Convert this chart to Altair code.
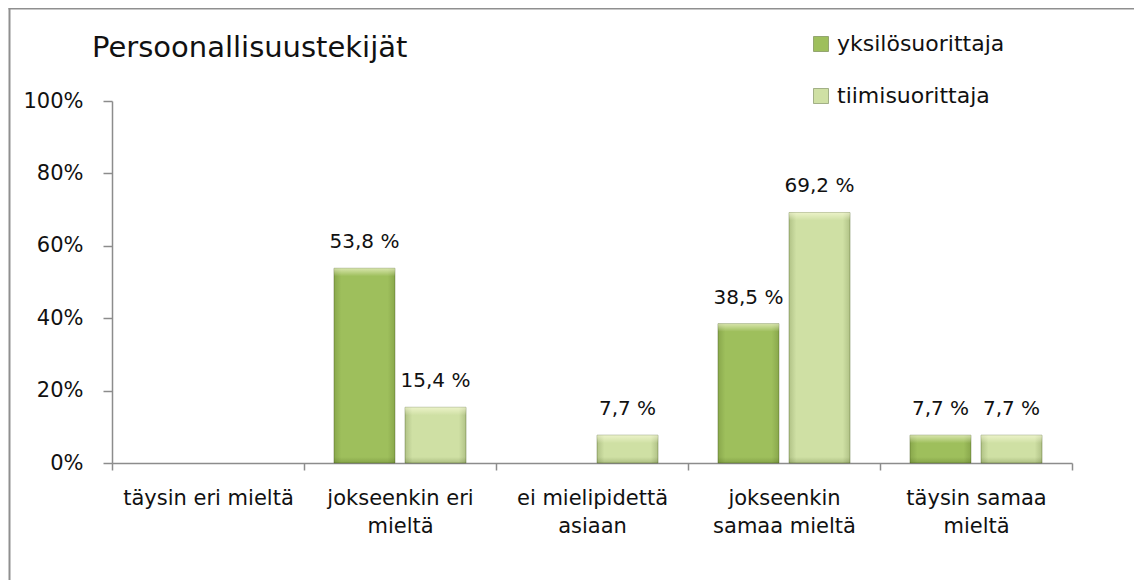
import altair as alt
import pandas as pd

categories = ["täysin eri mieltä", "jokseenkin eri mieltä", "ei mielipidettä asiaan",
              "jokseenkin samaa mieltä", "täysin samaa mieltä"]
wrapped = [["täysin eri mieltä"], ["jokseenkin eri", "mieltä"], ["ei mielipidettä", "asiaan"],
           ["jokseenkin", "samaa mieltä"], ["täysin samaa", "mieltä"]]
series_names = ["yksilösuorittaja", "tiimisuorittaja"]
yksilo = [0, 53.8, 0, 38.5, 7.7]
tiimi = [0, 15.4, 7.7, 69.2, 7.7]
y_ticks = [0, 20, 40, 60, 80, 100]
colors = ["#9ebf5c", "#cfe0a4"]
FONT = "DejaVu Sans"

rows = []
for s, vals in zip(series_names, [yksilo, tiimi]):
    for c, v in zip(categories, vals):
        rows.append({"cat": c, "series": s, "value": v,
                     "label": f"{v:.1f}".replace(".", ",") + " %"})
df = pd.DataFrame(rows)

label_expr = ""
for c, w in zip(categories, wrapped):
    arr = "[" + ",".join("'" + p + "'" for p in w) + "]"
    label_expr += f"datum.value == '{c}' ? {arr} : "
label_expr += "datum.label"

W, H = 960, 362
PAD = {"left": 104, "top": 93, "right": 62, "bottom": 117}

x_enc = alt.X("cat:N", sort=categories,
              scale=alt.Scale(domain=categories, paddingInner=0, paddingOuter=0),
              axis=alt.Axis(title=None, labelAngle=0, labelExpr=label_expr, tickBand="extent",
                            domainColor="#8c8c8c", tickColor="#8c8c8c", domainWidth=1.5,
                            tickWidth=1.5, tickSize=7, labelFontSize=21, labelFont=FONT,
                            labelColor="#111111", labelPadding=17, labelLimit=400,
                            labelLineHeight=28, labelOverlap=False))
y_enc = alt.Y("value:Q", scale=alt.Scale(domain=[0, 100], nice=False),
              axis=alt.Axis(title=None, values=y_ticks, labelExpr="datum.value + '%'",
                            grid=False, domainColor="#8c8c8c", tickColor="#8c8c8c",
                            domainWidth=1.5, tickWidth=1.5, tickSize=9, labelFontSize=21,
                            labelFont=FONT, labelColor="#111111", labelPadding=20))
xo_enc = alt.XOffset("series:N", sort=series_names,
                     scale=alt.Scale(domain=series_names, paddingInner=0.141,
                                     paddingOuter=0.422))

base = alt.Chart(df).transform_filter("datum.value > 0")

bars = base.mark_bar(stroke="rgba(60,80,20,0.35)", strokeWidth=1).encode(
    x=x_enc, y=y_enc, xOffset=xo_enc,
    color=alt.Color("series:N", sort=series_names,
                    scale=alt.Scale(domain=series_names, range=colors),
                    legend=alt.Legend(orient="none", legendX=698, legendY=-68, title=None,
                                      symbolType="square", symbolSize=225,
                                      symbolStrokeColor="rgba(60,80,20,0.4)",
                                      symbolStrokeWidth=1, labelFontSize=22,
                                      labelFont=FONT, labelColor="#111111",
                                      labelOffset=5, labelLimit=400, rowPadding=30,
                                      padding=0)))

shade = base.mark_bar(color=alt.Gradient(
    gradient="linear", x1=0, x2=1, y1=0, y2=0,
    stops=[alt.GradientStop(color="rgba(40,60,0,0.18)", offset=0),
           alt.GradientStop(color="rgba(40,60,0,0.0)", offset=0.12),
           alt.GradientStop(color="rgba(40,60,0,0.0)", offset=0.88),
           alt.GradientStop(color="rgba(40,60,0,0.18)", offset=1)])).encode(
    x=x_enc, y=y_enc, xOffset=xo_enc)

top_hi = base.mark_bar(y2Offset=8, color=alt.Gradient(
    gradient="linear", x1=0, x2=0, y1=0, y2=1,
    stops=[alt.GradientStop(color="rgba(255,255,225,0.6)", offset=0),
           alt.GradientStop(color="rgba(255,255,225,0.0)", offset=1)])).encode(
    x=x_enc, y=y_enc, y2=alt.Y2("value:Q"), xOffset=xo_enc)

bottom_sh = base.mark_bar(yOffset=-6, color=alt.Gradient(
    gradient="linear", x1=0, x2=0, y1=0, y2=1,
    stops=[alt.GradientStop(color="rgba(40,60,0,0.0)", offset=0),
           alt.GradientStop(color="rgba(40,60,0,0.2)", offset=1)])).encode(
    x=x_enc, y=alt.Y("zero:Q", scale=alt.Scale(domain=[0, 100], nice=False)),
    y2=alt.Y2("zero2:Q"), xOffset=xo_enc).transform_calculate(zero="0", zero2="0")

texts = base.mark_text(baseline="alphabetic", dy=-20, fontSize=20, font=FONT,
                       color="#111111").encode(
    x=x_enc, y=y_enc, xOffset=xo_enc, text="label:N")

frame_data = alt.Data(values=[{"k": 1}])
left_line = alt.Chart(frame_data).mark_rule(color="#8f8f8f", strokeWidth=2).encode(
    x=alt.value(-102.5), y=alt.value(-93), y2=alt.value(H + PAD["bottom"]))
top_line = alt.Chart(frame_data).mark_rule(color="#8f8f8f", strokeWidth=2).encode(
    x=alt.value(-103.5), x2=alt.value(W + PAD["right"]), y=alt.value(-92.5))

chart = alt.layer(left_line, top_line, bars, shade, top_hi, bottom_sh, texts).properties(
    width=W, height=H,
    autosize=alt.AutoSizeParams(type="none"),
    padding=PAD,
    title=alt.Title(text="Persoonallisuustekijät", anchor="start", frame="group",
                    dx=-20, dy=79, baseline="alphabetic", fontSize=29, font=FONT,
                    fontWeight="normal", color="#111111", offset=0),
).configure_view(stroke=None)

chart.save("out.html", embed_options={"renderer": "svg", "actions": False})
